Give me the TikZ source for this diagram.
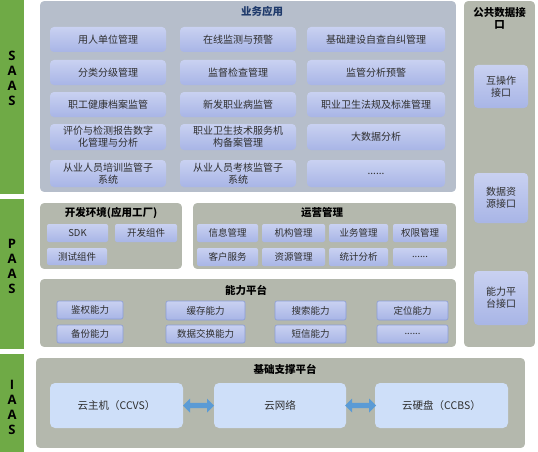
\documentclass[tikz,border=0pt]{standalone}
\usepackage{fontspec}
\setmainfont{Noto Sans CJK SC}
\newfontfamily\latinbold{Open Sans}
\usetikzlibrary{shapes.arrows}
\definecolor{barGreen}{HTML}{6FAA46}
\definecolor{bizPanel}{HTML}{B6BECB}
\definecolor{grayPanel}{HTML}{B4B8AD}
\definecolor{boxTop}{HTML}{C9D1F1}
\definecolor{boxBot}{HTML}{A8B5E6}
\definecolor{boxEdge}{HTML}{8A9CD6}
\definecolor{cloudBox}{HTML}{CEDFF9}
\definecolor{arrowBlue}{HTML}{5B9BD5}
\definecolor{titleBlue}{HTML}{1F3A6B}
\definecolor{txt}{HTML}{2E2E2E}
\newcommand\bx[7]{\node[#1, minimum width={(#4-#2)*1pt}, minimum height={(#5-#3)*1pt}] (#7) at ({(#2+#4)/2},{(#3+#5)/2}) {#6};}
\tikzset{
  greenbar/.style={fill=barGreen, draw=none, inner sep=0pt},
  bartext/.style={font=\latinbold\bfseries\fontsize{13}{15}\selectfont, align=center, text=black},
  panel/.style={fill=grayPanel, draw=white, line width=1.8pt, rounded corners=5pt, inner sep=0pt},
  bizpanel/.style={panel, fill=bizPanel},
  ptitle/.style={font=\bfseries\fontsize{10.5}{12}\selectfont, text=black, align=center},
  bbox/.style={top color=boxTop, bottom color=boxBot, draw=none, rounded corners=4pt, inner sep=1pt,
    font=\fontsize{10}{12}\selectfont, text=txt, align=center},
  sbox/.style={bbox, rounded corners=2pt, font=\fontsize{9.5}{11}\selectfont},
  ebox/.style={sbox, draw=boxEdge, line width=0.6pt},
  cbox/.style={fill=cloudBox, draw=none, rounded corners=5pt, font=\fontsize{10.5}{12}\selectfont, text=txt},
  dblarrow/.style={double arrow, fill=arrowBlue, draw=none, minimum height=31pt, minimum width=14pt,
    double arrow head extend=2pt, inner sep=1pt, double arrow head indent=0pt}
}
\begin{document}
\begin{tikzpicture}[x=1pt,y=-1pt]
\useasboundingbox (0,0) rectangle (538,452);
\fill[white] (0,0) rectangle (538,452);
% green layer bars
\bx{greenbar}{0}{0}{24}{194}{}{saas}
\bx{greenbar}{0}{199}{24}{349}{}{paas}
\bx{greenbar}{0}{354}{24}{452}{}{iaas}
\node[bartext] (saasT) at (12,78) {S\\A\\A\\S};
\node[bartext] (paasT) at (12,266) {P\\A\\A\\S};
\node[bartext] (iaasT) at (12,407) {I\\A\\A\\S};
% SAAS panel
\bx{bizpanel}{39}{0}{457}{193}{}{biz}
\node[ptitle, text=titleBlue] (bizT) at (262,11) {业务应用};
\bx{bbox}{50}{27}{166}{52}{用人单位管理}{b11}
\bx{bbox}{180}{27}{296}{52}{在线监测与预警}{b12}
\bx{bbox}{307}{27}{445}{52}{基础建设自查自纠管理}{b13}
\bx{bbox}{50}{60}{166}{85}{分类分级管理}{b21}
\bx{bbox}{180}{60}{296}{85}{监督检查管理}{b22}
\bx{bbox}{307}{60}{445}{85}{监管分析预警}{b23}
\bx{bbox}{50}{92}{166}{117}{职工健康档案监管}{b31}
\bx{bbox}{180}{92}{296}{117}{新发职业病监管}{b32}
\bx{bbox}{307}{92}{445}{117}{职业卫生法规及标准管理}{b33}
\bx{bbox}{50}{124}{166}{150}{评价与检测报告数字\\化管理与分析}{b41}
\bx{bbox}{180}{124}{296}{150}{职业卫生技术服务机\\构备案管理}{b42}
\bx{bbox}{307}{124}{445}{150}{大数据分析}{b43}
\bx{bbox}{50}{160}{166}{187}{从业人员培训监管子\\系统}{b51}
\bx{bbox}{180}{160}{296}{187}{从业人员考核监管子\\系统}{b52}
\bx{bbox}{307}{160}{445}{187}{......}{b53}
% right panel
\bx{panel}{463}{0}{536}{348}{}{pub}
\node[ptitle] (pubT) at (499.5,18) {公共数据接\\口};
\bx{bbox}{474}{65}{528}{108}{互操作\\接口}{i1}
\bx{bbox}{474}{173}{528}{223}{数据资\\源接口}{i2}
\bx{bbox}{474}{271}{528}{325}{能力平\\台接口}{i3}
% PAAS dev env
\bx{panel}{39}{202}{183}{270}{}{dev}
\node[ptitle] (devT) at (111,213) {开发环境(应用工厂)};
\bx{sbox}{47}{224}{108}{242}{SDK}{d1}
\bx{sbox}{115}{224}{177}{242}{开发组件}{d2}
\bx{sbox}{47}{248}{107}{265}{测试组件}{d3}
% operations
\bx{panel}{192}{202}{457}{270}{}{ops}
\node[ptitle] (opsT) at (322,213) {运营管理};
\bx{sbox}{197}{224}{258}{242}{信息管理}{o1}
\bx{sbox}{262}{224}{325}{242}{机构管理}{o2}
\bx{sbox}{329}{224}{388}{242}{业务管理}{o3}
\bx{sbox}{393}{224}{447}{242}{权限管理}{o4}
\bx{sbox}{197}{248}{258}{266}{客户服务}{o5}
\bx{sbox}{262}{248}{325}{266}{资源管理}{o6}
\bx{sbox}{329}{248}{388}{266}{统计分析}{o7}
\bx{sbox}{393}{248}{447}{266}{......}{o8}
% capability platform
\bx{panel}{39}{278}{457}{348}{}{cap}
\node[ptitle] (capT) at (246,290) {能力平台};
\bx{ebox}{57}{301}{123}{319}{鉴权能力}{c1}
\bx{ebox}{166}{301}{245}{320}{缓存能力}{c2}
\bx{ebox}{275}{301}{346}{320}{搜索能力}{c3}
\bx{ebox}{377}{301}{448}{320}{定位能力}{c4}
\bx{ebox}{57}{325}{123}{343}{备份能力}{c5}
\bx{ebox}{166}{325}{245}{343}{数据交换能力}{c6}
\bx{ebox}{275}{325}{346}{343}{短信能力}{c7}
\bx{ebox}{377}{325}{448}{343}{......}{c8}
% IAAS
\bx{panel}{35}{357}{526}{449}{}{base}
\node[ptitle] (baseT) at (285,369) {基础支撑平台};
\bx{cbox}{50}{383}{183}{428}{云主机（CCVS）}{v1}
\bx{cbox}{214}{383}{346}{428}{云网络}{v2}
\bx{cbox}{375}{383}{508}{428}{云硬盘（CCBS）}{v3}
\path (v1.east) -- (v2.west) node[midway, dblarrow] (a1) {};
\path (v2.east) -- (v3.west) node[midway, dblarrow] (a2) {};
\end{tikzpicture}
\end{document}
